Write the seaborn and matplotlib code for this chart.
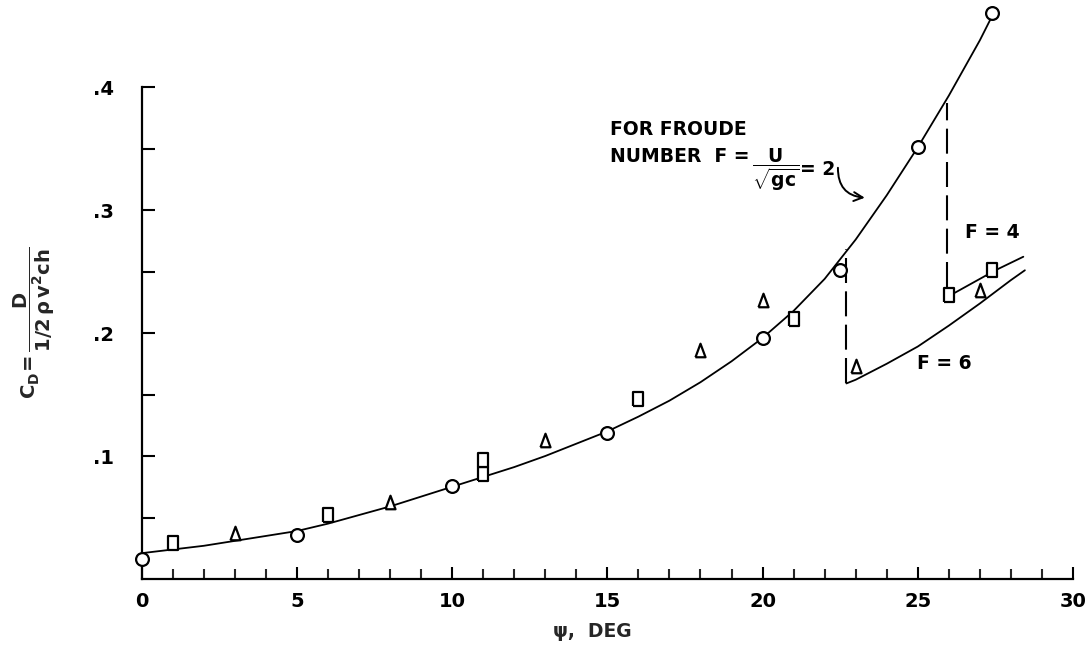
import matplotlib
matplotlib.use("Agg")
import matplotlib.pyplot as plt
from matplotlib.ticker import MultipleLocator, FixedLocator, FixedFormatter
import pandas as pd
import seaborn as sns

# Measured drag coefficients, grouped by plotting symbol
circle_psi = [0, 5, 10, 15, 20, 22.5, 25, 27.4]
circle_cd = [0.016, 0.036, 0.076, 0.119, 0.196, 0.251, 0.351, 0.460]
square_psi = [1, 6, 11, 11, 16, 21, 26, 27.4]
square_cd = [0.029, 0.052, 0.085, 0.097, 0.146, 0.211, 0.231, 0.251]
triangle_psi = [3, 8, 13, 18, 20, 23, 27]
triangle_cd = [0.037, 0.063, 0.113, 0.186, 0.227, 0.173, 0.235]

# Faired curves for each Froude number
f2_psi = [0, 1, 2, 3, 4, 5, 6, 7, 8, 9, 10, 11, 12, 13, 14, 15, 16, 17,
          18, 19, 20, 21, 22, 23, 24, 25, 26, 27, 27.4]
f2_cd = [0.021, 0.024, 0.027, 0.031, 0.035, 0.039, 0.045, 0.052, 0.059,
         0.067, 0.075, 0.083, 0.091, 0.100, 0.110, 0.120, 0.132, 0.145,
         0.160, 0.177, 0.196, 0.218, 0.244, 0.276, 0.312, 0.351, 0.393,
         0.438, 0.458]
f4_psi = [26.0, 26.5, 27.0, 27.5, 28.4]
f4_cd = [0.230, 0.237, 0.244, 0.251, 0.262]
f6_psi = [22.7, 23, 24, 25, 26, 27, 28, 28.45]
f6_cd = [0.159, 0.162, 0.175, 0.189, 0.206, 0.224, 0.243, 0.251]

# Dashed drops where the flow switches regime
jump_psi = [22.7, 25.95]
jump_top = [0.268, 0.387]
jump_bottom = [0.159, 0.237]

x_ticks = [0, 5, 10, 15, 20, 25, 30]
x_labels = ["0", "5", "10", "15", "20", "25", "30"]
y_ticks = [0.1, 0.2, 0.3, 0.4]
y_labels = [".1", ".2", ".3", ".4"]

sns.set_style("ticks")
plt.rcParams["font.family"] = ["DejaVu Sans"]
plt.rcParams["font.weight"] = "bold"
plt.rcParams["mathtext.fontset"] = "custom"
plt.rcParams["mathtext.rm"] = "DejaVu Sans:bold"
plt.rcParams["mathtext.it"] = "DejaVu Sans:bold"
plt.rcParams["mathtext.bf"] = "DejaVu Sans:bold"
plt.rcParams["mathtext.default"] = "rm"

fig = plt.figure(figsize=(10.92, 6.47), dpi=100)
ax = fig.add_axes([0.1298, 0.1051, 0.8528, 0.8935])

ink = "black"

# Curves
for px, py in [(f2_psi, f2_cd), (f4_psi, f4_cd), (f6_psi, f6_cd)]:
    sns.lineplot(x=px, y=py, sort=False, estimator=None, color=ink,
                 linewidth=1.3, ax=ax, zorder=2)

ax.vlines(jump_psi, jump_bottom, jump_top, colors=ink, linewidth=1.5,
          linestyles=[(0, (12, 4))], zorder=2)

# Open symbols
rect = [(-0.33, -0.5), (0.33, -0.5), (0.33, 0.5), (-0.33, 0.5), (-0.33, -0.5)]
tri = [(-0.37, -0.5), (0.37, -0.5), (0.0, 0.5), (-0.37, -0.5)]
points = pd.concat([
    pd.DataFrame({"psi": circle_psi, "cd": circle_cd, "sym": "circle"}),
    pd.DataFrame({"psi": square_psi, "cd": square_cd, "sym": "square"}),
    pd.DataFrame({"psi": triangle_psi, "cd": triangle_cd, "sym": "triangle"}),
], ignore_index=True)
sizes = {"circle": 85, "square": 105, "triangle": 95}
markers = {"circle": "o", "square": rect, "triangle": tri}
for sym, grp in points.groupby("sym"):
    sns.scatterplot(data=grp, x="psi", y="cd", marker=markers[sym],
                    s=sizes[sym], color="white", edgecolor=ink,
                    linewidth=1.6, ax=ax, zorder=3, clip_on=False,
                    legend=False)

# Axes
ax.set_xlim(0, 30)
ax.set_ylim(0, 0.47)
sns.despine(ax=ax)
ax.spines["left"].set_bounds(0, 0.4)
for side in ("left", "bottom"):
    ax.spines[side].set_linewidth(1.6)
    ax.spines[side].set_color(ink)

ax.xaxis.set_major_locator(FixedLocator(x_ticks))
ax.xaxis.set_major_formatter(FixedFormatter(x_labels))
ax.xaxis.set_minor_locator(MultipleLocator(1))
ax.yaxis.set_major_locator(FixedLocator(y_ticks))
ax.yaxis.set_major_formatter(FixedFormatter(y_labels))
ax.yaxis.set_minor_locator(FixedLocator([0.05, 0.15, 0.25, 0.35]))

ax.tick_params(axis="x", which="major", direction="in", length=9, width=1.5,
               pad=9, labelsize=14, colors=ink)
ax.tick_params(axis="x", which="minor", direction="in", length=7.5, width=1.5)
ax.tick_params(axis="y", which="both", direction="in", length=9, width=1.5,
               pad=20, labelsize=14, colors=ink)

ax.set_xlabel("ψ,  DEG", fontsize=13.5, fontweight="bold")
ax.xaxis.set_label_coords(0.4835, -0.074)
ax.set_ylabel(r"$C_D\!= \dfrac{D}{1/2\,\rho\, v^2 c h}$", fontsize=14)
ax.yaxis.set_label_coords(-0.091, 0.443)

# Annotations
txt = dict(fontsize=13.5, fontweight="bold", color=ink)
ax.text(15.08, 0.361, "FOR FROUDE", ha="left", va="baseline", **txt)
ax.text(15.08, 0.339, "NUMBER  F =", ha="left", va="baseline", **txt)
ax.text(20.43, 0.3325, r"$\dfrac{U}{\sqrt{gc}}$", ha="center", va="center",
        **txt)
ax.text(21.2, 0.333, "= 2", ha="left", va="center", **txt)
ax.annotate("", xy=(23.38, 0.3098), xytext=(22.43, 0.3366),
            arrowprops=dict(arrowstyle="->", color=ink, lw=1.4,
                            connectionstyle="arc3,rad=0.5",
                            mutation_scale=16))
ax.text(27.39, 0.2817, "F = 4", ha="center", va="center", **txt)
ax.text(25.84, 0.1754, "F = 6", ha="center", va="center", **txt)

fig.savefig("out.png", dpi=100)
